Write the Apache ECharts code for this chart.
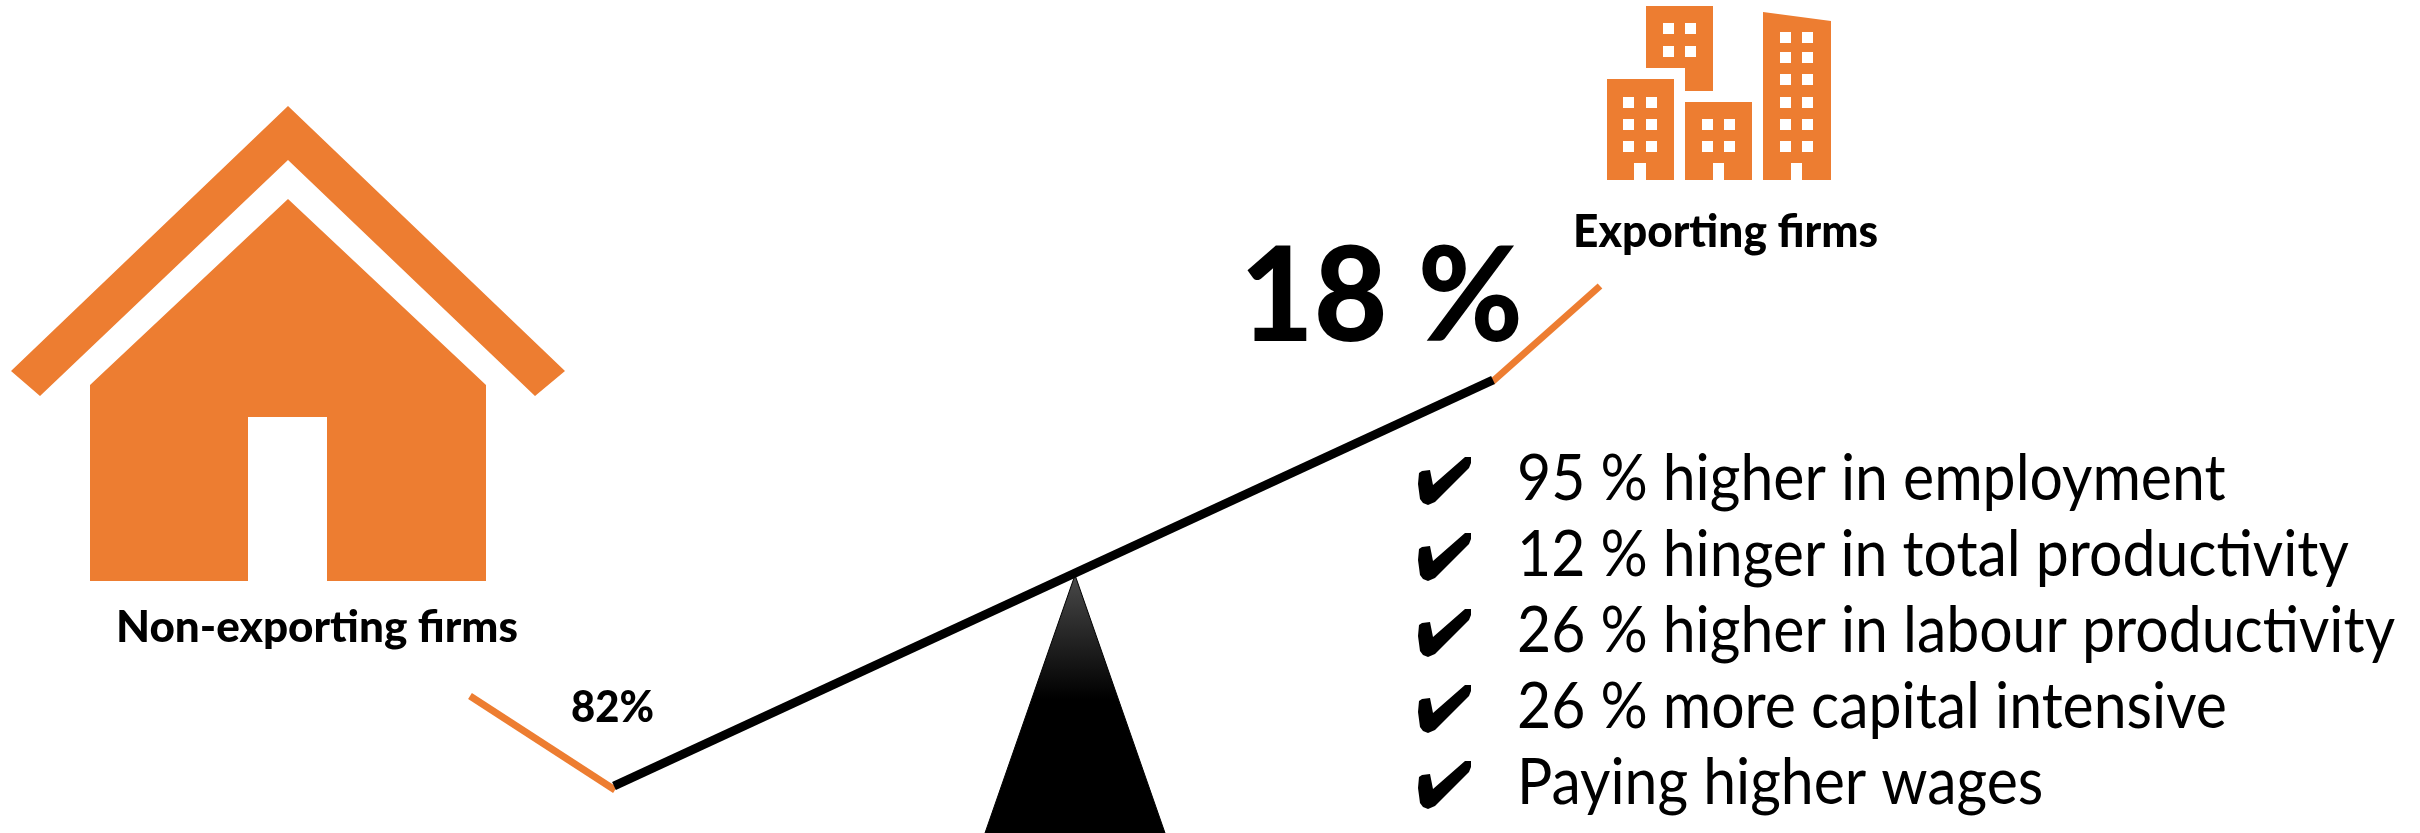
<!DOCTYPE html>
<html>
<head>
<meta charset="utf-8">
<title>Exporting and non-exporting firms</title>
<style>
  html, body { margin: 0; padding: 0; background: #fff; }
  #chart { width: 2420px; height: 833px; }
</style>
<script src="https://cdn.jsdelivr.net/npm/echarts@6/dist/echarts.min.js"></script>
</head>
<body>
<div id="chart"></div>
<script>
// Share of firms on each side of the balance
const groupNames = ['Non-exporting firms', 'Exporting firms'];
const groupShares = [82, 18];
// Advantages of exporting firms
const advantages = [
  '95 % higher in employment',
  '12 % hinger in total productivity',
  '26 % higher in labour productivity',
  '26 % more capital intensive',
  'Paying higher wages'
];

const ORANGE = '#ED7D31';
const FONT = 'Lato, Carlito, "Open Sans", sans-serif';

// Scene geometry, in canvas-sized axis units
const beam = [[614, 786], [1493, 380]];
const lowArm = [[470, 696], [615, 790]];
const highArm = [[1492, 382], [1600, 286]];

const roof = [[288, 106], [565, 371], [535, 396], [288, 160], [40, 396], [11, 371]];
const houseBody = [[288, 199], [486, 385], [486, 581], [327, 581], [327, 417], [248, 417], [248, 581], [90, 581], [90, 385]];
const fulcrum = [[1075, 575], [1165, 833], [985, 833]];

const towerTop = [[1646, 6], [1713, 6], [1713, 91], [1685, 91], [1685, 68], [1646, 68]];
const towerLeft = [[1607, 79], [1674, 79], [1674, 180], [1646, 180], [1646, 163], [1634, 163], [1634, 180], [1607, 180]];
const towerMid = [[1685, 102], [1752, 102], [1752, 180], [1724, 180], [1724, 163], [1713, 163], [1713, 180], [1685, 180]];
const towerRight = [[1763, 12], [1831, 21], [1831, 180], [1802, 180], [1802, 163], [1791, 163], [1791, 180], [1763, 180]];

const rectangle = (x, y, w, h) => [[x, y], [x + w, y], [x + w, y + h], [x, y + h]];
const windowGrid = (xs, ys) => xs.flatMap(x => ys.map(y => rectangle(x, y, 11, 11)));
const windows = [
  ...windowGrid([1663, 1685], [23, 46]),
  ...windowGrid([1623, 1646], [97, 119, 141]),
  ...windowGrid([1702, 1724], [119, 141]),
  ...windowGrid([1780, 1802], [32, 52, 74, 97, 119, 141])
];

const fulcrumFill = {
  type: 'linear', x: 0, y: 0, x2: 0, y2: 1,
  colorStops: [
    { offset: 0, color: '#4a4a4a' },
    { offset: 0.48, color: '#000' },
    { offset: 1, color: '#000' }
  ]
};

// Check mark bullet outline for the first row; later rows are shifted down
const checkOutline = [[1419, 473], [1422, 471], [1430, 470], [1433, 485], [1465, 457], [1471, 457], [1471, 463], [1469, 468], [1435, 502], [1428, 505], [1423, 503], [1420, 499], [1418, 484]];
const ROW_FIRST = 500, ROW_STEP = 76;

const shapes = [
  { points: roof, fill: ORANGE },
  { points: houseBody, fill: ORANGE },
  { points: towerTop, fill: ORANGE },
  { points: towerLeft, fill: ORANGE },
  { points: towerMid, fill: ORANGE },
  { points: towerRight, fill: ORANGE },
  ...windows.map(points => ({ points, fill: '#fff' })),
  { points: fulcrum, fill: fulcrumFill, stroke: '#000' },
  ...advantages.map((_, i) => ({
    points: checkOutline.map(([x, y]) => [x, y + i * ROW_STEP]),
    fill: '#000'
  }))
];

// Horizontal squeeze that makes a string span the wanted width
const ruler = document.createElement('canvas').getContext('2d');
function fitScale(text, font, width) {
  ruler.font = font;
  return width / ruler.measureText(text).width;
}

// Text is anchored on its middle line, which sits this far above the baseline
const MIDDLE_ABOVE_BASELINE = 0.325;

function label(text, x, baseline, size, weight, scaleX) {
  return {
    type: 'text',
    x: x, y: baseline - MIDDLE_ABOVE_BASELINE * size, scaleX: scaleX, silent: true,
    style: {
      text: text, x: 0, y: 0,
      font: weight + ' ' + size + 'px ' + FONT,
      fill: '#000',
      align: 'left',
      verticalAlign: 'middle'
    }
  };
}
function fitted(text, left, right, baseline, size, weight) {
  const font = weight + ' ' + size + 'px ' + FONT;
  return label(text, left, baseline, size, weight, fitScale(text, font, right - left));
}

const LIST_SIZE = 64;
const listScale = fitScale(advantages[2], '400 ' + LIST_SIZE + 'px ' + FONT, 878);

function straight(name, points, color, width) {
  return {
    type: 'line', name: name, data: points, symbol: 'none', silent: true,
    clip: false, animation: false,
    lineStyle: { color: color, width: width, cap: 'butt' }
  };
}

const chart = echarts.init(document.getElementById('chart'), null, { renderer: 'canvas' });
chart.setOption({
  animation: false,
  backgroundColor: '#fff',
  grid: { left: 0, right: 0, top: 0, bottom: 0 },
  xAxis: { type: 'value', min: 0, max: 2420, show: false },
  yAxis: { type: 'value', min: 0, max: 833, inverse: true, show: false },
  series: [
    {
      type: 'custom', name: 'Scene', silent: true, clip: false, animation: false,
      data: shapes.map((_, i) => [i, 0]),
      renderItem: function (params, api) {
        const s = shapes[params.dataIndex];
        return {
          type: 'polygon',
          shape: { points: s.points.map(p => api.coord(p)) },
          style: { fill: s.fill, stroke: s.stroke || null, lineWidth: s.stroke ? 1 : 0 }
        };
      }
    },
    straight('Low arm', lowArm, ORANGE, 7),
    straight('High arm', highArm, ORANGE, 7),
    straight('Beam', beam, '#000', 9)
  ],
  graphic: { elements: [
    fitted(groupNames[0], 116, 518, 642, 43, 900),
    fitted(groupNames[1], 1573, 1878, 247, 46, 900),
    fitted(groupShares[0] + '%', 571, 654, 722, 43, 900),
    fitted(groupShares[1] + ' %', 1240, 1523, 341, 132, 900),
    ...advantages.map((t, i) => label(t, 1517, ROW_FIRST + i * ROW_STEP, LIST_SIZE, 400, listScale))
  ] }
});
</script>
</body>
</html>
